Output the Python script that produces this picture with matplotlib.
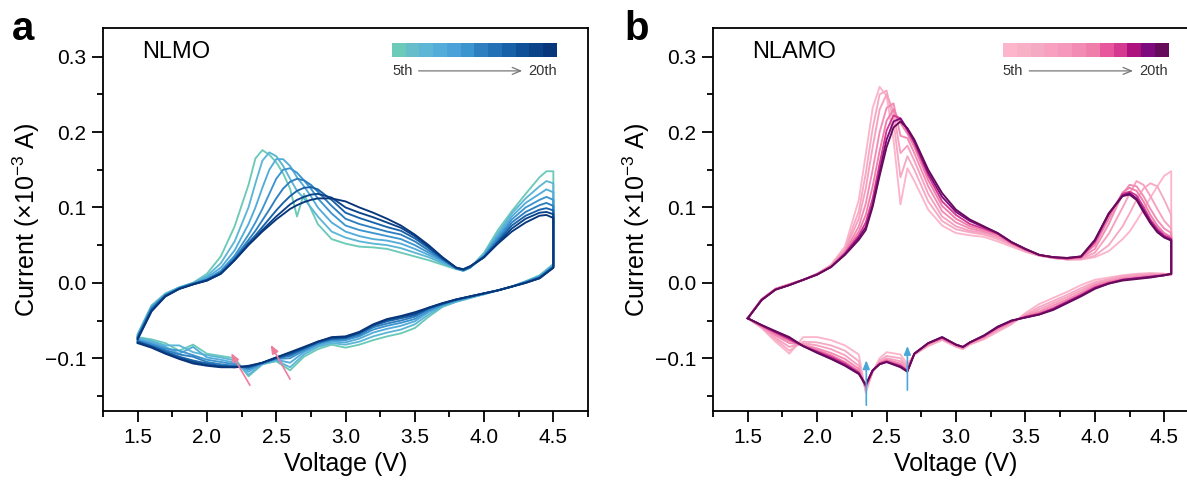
import numpy as np
import matplotlib.pyplot as plt
from matplotlib.colors import ListedColormap
from matplotlib.ticker import MultipleLocator

plt.rcParams['font.family'] = ['Liberation Sans', 'DejaVu Sans']
plt.rcParams['mathtext.fontset'] = 'custom'
plt.rcParams['mathtext.rm'] = 'Liberation Sans'
plt.rcParams['mathtext.it'] = 'Liberation Sans:italic'

# ---------- data ----------
cycles = ['5th', '7th', '9th', '11th', '13th', '15th', '17th', '20th']

# NLMO, charge (anodic) branch
v_up_a = [1.5, 1.6, 1.7, 1.8, 1.9, 2.0, 2.1, 2.2, 2.3, 2.35, 2.4, 2.45, 2.5, 2.55, 2.6, 2.65, 2.7, 2.75, 2.8,
          2.9, 3.0, 3.1, 3.2, 3.3, 3.4, 3.5, 3.6, 3.7, 3.8, 3.85, 3.9, 4.0, 4.1, 4.2, 4.3, 4.4, 4.45, 4.5]
i_up_a = [
    [-0.068, -0.030, -0.014, -0.006, 0.000, 0.012, 0.035, 0.075, 0.130, 0.165, 0.176, 0.170, 0.160, 0.145, 0.125, 0.088, 0.118, 0.098, 0.078,
     0.058, 0.052, 0.048, 0.047, 0.045, 0.040, 0.035, 0.030, 0.024, 0.018, 0.016, 0.020, 0.040, 0.070, 0.095, 0.118, 0.140, 0.148, 0.148],
    [-0.069, -0.031, -0.015, -0.006, 0.000, 0.009, 0.026, 0.055, 0.100, 0.132, 0.162, 0.173, 0.168, 0.155, 0.138, 0.122, 0.112, 0.100, 0.088,
     0.068, 0.060, 0.055, 0.052, 0.050, 0.046, 0.040, 0.034, 0.026, 0.019, 0.016, 0.020, 0.038, 0.066, 0.092, 0.112, 0.128, 0.135, 0.132],
    [-0.070, -0.032, -0.016, -0.007, -0.001, 0.007, 0.020, 0.043, 0.078, 0.100, 0.126, 0.150, 0.164, 0.164, 0.155, 0.140, 0.128, 0.115, 0.100,
     0.080, 0.068, 0.062, 0.058, 0.056, 0.052, 0.045, 0.037, 0.028, 0.019, 0.016, 0.020, 0.037, 0.063, 0.088, 0.106, 0.118, 0.124, 0.120],
    [-0.071, -0.033, -0.016, -0.007, -0.001, 0.005, 0.016, 0.036, 0.064, 0.080, 0.098, 0.118, 0.138, 0.150, 0.152, 0.146, 0.136, 0.125, 0.112,
     0.092, 0.076, 0.070, 0.066, 0.062, 0.058, 0.050, 0.040, 0.030, 0.019, 0.017, 0.021, 0.036, 0.060, 0.084, 0.100, 0.110, 0.114, 0.110],
    [-0.072, -0.034, -0.017, -0.007, -0.001, 0.004, 0.014, 0.033, 0.057, 0.069, 0.083, 0.097, 0.112, 0.125, 0.134, 0.138, 0.136, 0.130, 0.121,
     0.102, 0.085, 0.078, 0.073, 0.068, 0.064, 0.055, 0.043, 0.031, 0.019, 0.017, 0.021, 0.035, 0.057, 0.080, 0.094, 0.103, 0.106, 0.102],
    [-0.073, -0.036, -0.017, -0.008, -0.002, 0.004, 0.013, 0.031, 0.053, 0.063, 0.074, 0.085, 0.096, 0.106, 0.115, 0.122, 0.126, 0.127, 0.124,
     0.110, 0.093, 0.086, 0.080, 0.074, 0.069, 0.059, 0.046, 0.032, 0.020, 0.017, 0.021, 0.034, 0.055, 0.076, 0.089, 0.097, 0.099, 0.096],
    [-0.074, -0.037, -0.018, -0.008, -0.002, 0.003, 0.012, 0.030, 0.051, 0.060, 0.070, 0.079, 0.088, 0.096, 0.104, 0.110, 0.114, 0.117, 0.118,
     0.113, 0.100, 0.093, 0.087, 0.080, 0.073, 0.062, 0.048, 0.033, 0.020, 0.018, 0.022, 0.034, 0.053, 0.072, 0.085, 0.093, 0.094, 0.091],
    [-0.075, -0.038, -0.018, -0.008, -0.002, 0.003, 0.012, 0.030, 0.050, 0.059, 0.068, 0.076, 0.084, 0.091, 0.098, 0.103, 0.107, 0.110, 0.112,
     0.112, 0.108, 0.100, 0.093, 0.085, 0.076, 0.064, 0.050, 0.034, 0.020, 0.018, 0.022, 0.034, 0.052, 0.068, 0.080, 0.089, 0.090, 0.086],
]

# NLMO, discharge (cathodic) branch
v_down_a = [4.5, 4.4, 4.3, 4.2, 4.1, 4.0, 3.9, 3.8, 3.7, 3.6, 3.5, 3.4, 3.3, 3.2, 3.1, 3.0,
            2.9, 2.8, 2.7, 2.6, 2.5, 2.4, 2.3, 2.2, 2.1, 2.0, 1.9, 1.8, 1.7, 1.6, 1.5]
i_down_a = [
    [0.025, 0.010, 0.002, -0.005, -0.010, -0.015, -0.020, -0.025, -0.032, -0.045, -0.060, -0.067, -0.071, -0.076, -0.082, -0.086,
     -0.082, -0.088, -0.098, -0.116, -0.104, -0.108, -0.124, -0.100, -0.097, -0.094, -0.082, -0.090, -0.080, -0.075, -0.072],
    [0.024, 0.009, 0.002, -0.005, -0.010, -0.015, -0.020, -0.025, -0.031, -0.042, -0.055, -0.062, -0.066, -0.071, -0.078, -0.082,
     -0.080, -0.085, -0.095, -0.112, -0.103, -0.108, -0.122, -0.103, -0.099, -0.096, -0.092, -0.083, -0.083, -0.077, -0.073],
    [0.023, 0.008, 0.001, -0.005, -0.010, -0.015, -0.019, -0.024, -0.030, -0.039, -0.051, -0.057, -0.061, -0.066, -0.074, -0.079,
     -0.078, -0.083, -0.092, -0.106, -0.102, -0.107, -0.118, -0.106, -0.102, -0.099, -0.085, -0.094, -0.085, -0.079, -0.075],
    [0.022, 0.008, 0.001, -0.005, -0.010, -0.014, -0.019, -0.023, -0.029, -0.037, -0.048, -0.053, -0.057, -0.062, -0.071, -0.076,
     -0.076, -0.081, -0.090, -0.100, -0.101, -0.107, -0.115, -0.108, -0.105, -0.102, -0.096, -0.090, -0.087, -0.081, -0.076],
    [0.021, 0.007, 0.001, -0.005, -0.010, -0.014, -0.018, -0.023, -0.028, -0.035, -0.045, -0.050, -0.054, -0.059, -0.069, -0.074,
     -0.075, -0.080, -0.088, -0.097, -0.100, -0.106, -0.113, -0.110, -0.108, -0.105, -0.098, -0.095, -0.089, -0.083, -0.077],
    [0.021, 0.007, 0.000, -0.005, -0.010, -0.014, -0.018, -0.022, -0.028, -0.034, -0.043, -0.047, -0.051, -0.057, -0.067, -0.073,
     -0.074, -0.079, -0.087, -0.095, -0.100, -0.106, -0.112, -0.111, -0.110, -0.107, -0.103, -0.098, -0.091, -0.084, -0.078],
    [0.020, 0.006, 0.000, -0.005, -0.010, -0.014, -0.018, -0.022, -0.027, -0.033, -0.041, -0.045, -0.049, -0.056, -0.066, -0.072,
     -0.073, -0.078, -0.086, -0.093, -0.099, -0.106, -0.111, -0.112, -0.111, -0.109, -0.105, -0.100, -0.093, -0.085, -0.079],
    [0.020, 0.006, 0.000, -0.005, -0.010, -0.014, -0.018, -0.022, -0.027, -0.033, -0.039, -0.044, -0.048, -0.055, -0.065, -0.071,
     -0.072, -0.078, -0.085, -0.092, -0.099, -0.106, -0.110, -0.112, -0.112, -0.110, -0.107, -0.101, -0.094, -0.086, -0.080],
]

# NLAMO, charge branch
v_up_b = [1.5, 1.6, 1.7, 1.8, 1.9, 2.0, 2.1, 2.2, 2.3, 2.35, 2.4, 2.45, 2.5, 2.55, 2.6, 2.65, 2.7, 2.8, 2.9, 3.0,
          3.1, 3.2, 3.3, 3.4, 3.5, 3.6, 3.7, 3.8, 3.9, 4.0, 4.1, 4.2, 4.25, 4.3, 4.35, 4.4, 4.45, 4.5, 4.55]
i_up_b = [
    [-0.047, -0.022, -0.008, -0.002, 0.004, 0.012, 0.024, 0.048, 0.110, 0.170, 0.232, 0.260, 0.248, 0.190, 0.104, 0.152, 0.135, 0.097, 0.076, 0.066,
     0.063, 0.061, 0.055, 0.048, 0.041, 0.036, 0.033, 0.031, 0.031, 0.034, 0.042, 0.058, 0.068, 0.082, 0.097, 0.113, 0.128, 0.142, 0.148],
    [-0.047, -0.022, -0.008, -0.002, 0.004, 0.012, 0.023, 0.045, 0.095, 0.145, 0.205, 0.250, 0.255, 0.215, 0.140, 0.168, 0.150, 0.108, 0.082, 0.071,
     0.067, 0.064, 0.058, 0.050, 0.042, 0.036, 0.033, 0.031, 0.031, 0.036, 0.050, 0.075, 0.092, 0.110, 0.125, 0.132, 0.128, 0.110, 0.090],
    [-0.047, -0.022, -0.008, -0.002, 0.004, 0.012, 0.023, 0.043, 0.085, 0.125, 0.180, 0.230, 0.250, 0.228, 0.172, 0.182, 0.162, 0.118, 0.088, 0.075,
     0.069, 0.066, 0.060, 0.051, 0.043, 0.036, 0.033, 0.031, 0.032, 0.040, 0.065, 0.100, 0.118, 0.135, 0.130, 0.115, 0.098, 0.082, 0.072],
    [-0.047, -0.022, -0.008, -0.002, 0.004, 0.012, 0.022, 0.041, 0.075, 0.105, 0.150, 0.200, 0.232, 0.238, 0.195, 0.192, 0.172, 0.128, 0.095, 0.080,
     0.072, 0.068, 0.062, 0.052, 0.044, 0.037, 0.033, 0.032, 0.033, 0.045, 0.078, 0.118, 0.130, 0.128, 0.115, 0.098, 0.083, 0.072, 0.066],
    [-0.047, -0.022, -0.008, -0.002, 0.004, 0.011, 0.022, 0.040, 0.068, 0.090, 0.128, 0.175, 0.215, 0.230, 0.212, 0.198, 0.180, 0.136, 0.102, 0.085,
     0.075, 0.070, 0.064, 0.053, 0.044, 0.037, 0.034, 0.032, 0.034, 0.050, 0.085, 0.120, 0.126, 0.122, 0.108, 0.090, 0.076, 0.066, 0.061],
    [-0.047, -0.022, -0.009, -0.003, 0.004, 0.011, 0.021, 0.039, 0.063, 0.080, 0.112, 0.158, 0.202, 0.222, 0.218, 0.202, 0.185, 0.142, 0.108, 0.090,
     0.078, 0.072, 0.065, 0.053, 0.044, 0.037, 0.034, 0.032, 0.034, 0.054, 0.090, 0.118, 0.121, 0.116, 0.101, 0.084, 0.072, 0.063, 0.059],
    [-0.047, -0.023, -0.009, -0.003, 0.004, 0.011, 0.021, 0.038, 0.060, 0.074, 0.104, 0.148, 0.190, 0.214, 0.218, 0.204, 0.188, 0.146, 0.114, 0.094,
     0.082, 0.074, 0.066, 0.054, 0.045, 0.037, 0.034, 0.033, 0.035, 0.056, 0.092, 0.116, 0.119, 0.112, 0.097, 0.081, 0.069, 0.061, 0.057],
    [-0.047, -0.023, -0.009, -0.003, 0.004, 0.011, 0.021, 0.037, 0.057, 0.070, 0.101, 0.142, 0.180, 0.206, 0.214, 0.205, 0.190, 0.150, 0.119, 0.097,
     0.084, 0.075, 0.066, 0.054, 0.045, 0.037, 0.034, 0.033, 0.035, 0.057, 0.092, 0.115, 0.117, 0.110, 0.094, 0.079, 0.067, 0.060, 0.056],
]

# NLAMO, discharge branch
v_down_b = [4.55, 4.5, 4.4, 4.3, 4.2, 4.1, 4.0, 3.9, 3.8, 3.7, 3.6, 3.5, 3.4, 3.3, 3.2, 3.1, 3.05, 3.0,
            2.9, 2.8, 2.7, 2.65, 2.6, 2.5, 2.45, 2.4, 2.35, 2.3, 2.2, 2.1, 2.0, 1.9, 1.8, 1.7, 1.6, 1.5]
i_down_b = [
    [0.010, 0.012, 0.013, 0.012, 0.010, 0.007, 0.004, -0.003, -0.012, -0.020, -0.028, -0.040, -0.055, -0.065, -0.075, -0.082, -0.088, -0.085,
     -0.076, -0.084, -0.095, -0.108, -0.095, -0.092, -0.100, -0.118, -0.146, -0.095, -0.083, -0.076, -0.072, -0.072, -0.094, -0.078, -0.060, -0.047],
    [0.011, 0.012, 0.012, 0.011, 0.009, 0.005, 0.001, -0.007, -0.016, -0.024, -0.032, -0.042, -0.054, -0.063, -0.074, -0.081, -0.087, -0.084,
     -0.075, -0.083, -0.095, -0.111, -0.100, -0.097, -0.103, -0.118, -0.143, -0.104, -0.090, -0.083, -0.079, -0.078, -0.090, -0.075, -0.059, -0.047],
    [0.011, 0.011, 0.011, 0.010, 0.008, 0.004, -0.001, -0.010, -0.019, -0.027, -0.035, -0.043, -0.053, -0.062, -0.073, -0.081, -0.087, -0.084,
     -0.074, -0.082, -0.095, -0.113, -0.104, -0.100, -0.105, -0.118, -0.141, -0.110, -0.096, -0.088, -0.083, -0.080, -0.085, -0.073, -0.058, -0.047],
    [0.011, 0.011, 0.010, 0.008, 0.006, 0.002, -0.003, -0.013, -0.022, -0.030, -0.038, -0.044, -0.052, -0.061, -0.072, -0.080, -0.086, -0.083,
     -0.074, -0.081, -0.094, -0.115, -0.107, -0.102, -0.106, -0.117, -0.139, -0.114, -0.101, -0.093, -0.087, -0.082, -0.080, -0.070, -0.058, -0.047],
    [0.012, 0.011, 0.009, 0.007, 0.005, 0.001, -0.005, -0.015, -0.024, -0.033, -0.040, -0.045, -0.051, -0.060, -0.071, -0.080, -0.086, -0.083,
     -0.073, -0.081, -0.094, -0.116, -0.109, -0.103, -0.107, -0.117, -0.138, -0.117, -0.105, -0.096, -0.089, -0.083, -0.077, -0.068, -0.057, -0.047],
    [0.012, 0.010, 0.008, 0.006, 0.004, 0.000, -0.006, -0.016, -0.025, -0.034, -0.041, -0.045, -0.051, -0.059, -0.071, -0.079, -0.085, -0.082,
     -0.073, -0.080, -0.094, -0.117, -0.110, -0.104, -0.107, -0.116, -0.137, -0.119, -0.107, -0.098, -0.091, -0.084, -0.075, -0.066, -0.057, -0.047],
    [0.012, 0.010, 0.008, 0.006, 0.004, -0.001, -0.007, -0.017, -0.026, -0.035, -0.042, -0.046, -0.050, -0.059, -0.070, -0.079, -0.085, -0.082,
     -0.072, -0.080, -0.094, -0.117, -0.111, -0.105, -0.108, -0.116, -0.136, -0.120, -0.109, -0.100, -0.092, -0.084, -0.073, -0.065, -0.056, -0.047],
    [0.012, 0.010, 0.007, 0.005, 0.003, -0.001, -0.008, -0.018, -0.027, -0.036, -0.042, -0.046, -0.050, -0.058, -0.070, -0.079, -0.085, -0.082,
     -0.072, -0.080, -0.094, -0.118, -0.112, -0.105, -0.108, -0.116, -0.135, -0.121, -0.110, -0.101, -0.093, -0.084, -0.072, -0.064, -0.056, -0.047],
]

# colour blocks of the little cycle bars (5th -> 20th)
blues = ['#6ccab8', '#68bdcb', '#5db6d6', '#53acda', '#4aa2d8', '#3d95d0',
         '#2e7fc0', '#2270b5', '#1761a8', '#0f5198', '#0b4389', '#08367a']
pinks = ['#fcb5ca', '#f8b0c7', '#f5aac4', '#f7a0c0', '#f598bc', '#f38cb4',
         '#ef7eab', '#e8579b', '#d43a8f', '#ae127c', '#7e0b7e', '#660a5a']
pick = [0, 2, 3, 5, 6, 8, 10, 11]   # which block each drawn cycle uses

# annotation arrows (tail x, tail y, head x, head y)
arrows_a = [(2.32, -0.139, 2.165, -0.090), (2.61, -0.131, 2.45, -0.079)]
arrows_b = [(2.354, -0.166, 2.354, -0.099), (2.65, -0.146, 2.65, -0.080)]

# ---------- plot ----------
fig = plt.figure(figsize=(11.87, 4.88), dpi=100)
ax_a = fig.add_axes([103 / 1187, 1 - 411 / 488, 485 / 1187, 383 / 488])
ax_b = fig.add_axes([713 / 1187, 1 - 411 / 488, 486 / 1187, 383 / 488])


def draw_panel(ax, v_up, i_up, v_down, i_down, blocks, name, arrows, arrow_col):
    for k in range(len(cycles)):
        x = list(v_up) + list(v_down)
        y = list(i_up[k]) + list(i_down[k])
        ax.plot(x, y, color=blocks[pick[k]], lw=1.35, solid_joinstyle='round')

    for x0, y0, x1, y1 in arrows:
        ax.annotate('', xy=(x1, y1), xytext=(x0, y0),
                    arrowprops=dict(arrowstyle='-|>,head_length=0.5,head_width=0.2',
                                    color=arrow_col, lw=1.2))

    ax.set_xlim(1.25, 4.75)
    ax.set_ylim(-0.17, 0.338)
    ax.xaxis.set_major_locator(MultipleLocator(0.5))
    ax.xaxis.set_minor_locator(MultipleLocator(0.25))
    ax.yaxis.set_minor_locator(MultipleLocator(0.05))
    ax.set_yticks([-0.1, 0.0, 0.1, 0.2, 0.3])
    ax.set_yticklabels(['\u22120.1', '0.0', '0.1', '0.2', '0.3'])
    ax.tick_params(which='major', direction='out', length=8, width=1.3, labelsize=15, pad=4)
    ax.tick_params(which='minor', direction='out', length=4.5, width=1.3)
    ax.tick_params(top=False, right=False)
    for s in ax.spines.values():
        s.set_linewidth(1.3)
    ax.set_xlabel('Voltage (V)', fontsize=18, labelpad=4)
    ax.set_ylabel('Current (\u00d710$^{-3}$ A)', fontsize=18, labelpad=2)

    ax.text(0.08, 0.937, name, transform=ax.transAxes, fontsize=17, va='center', ha='left')

    bar = ax.inset_axes([0.596, 0.924, 0.34, 0.037])
    bar.imshow(np.arange(len(blocks))[None, :], cmap=ListedColormap(blocks), aspect='auto')
    bar.set_axis_off()
    ax.text(0.596, 0.888, '5th', transform=ax.transAxes, fontsize=10.5, va='center', ha='left', color='#333333')
    ax.text(0.936, 0.888, '20th', transform=ax.transAxes, fontsize=10.5, va='center', ha='right', color='#333333')
    ax.annotate('', xy=(0.87, 0.888), xytext=(0.645, 0.888), xycoords='axes fraction',
                arrowprops=dict(arrowstyle='->,head_length=0.6,head_width=0.25', color='#777777', lw=0.9))


draw_panel(ax_a, v_up_a, i_up_a, v_down_a, i_down_a, blues, 'NLMO', arrows_a, '#f07c9c')
draw_panel(ax_b, v_up_b, i_up_b, v_down_b, i_down_b, pinks, 'NLAMO', arrows_b, '#4aa8d8')

fig.text(12 / 1187, 1 - 40 / 488, 'a', fontsize=29, fontweight='bold', ha='left', va='baseline')
fig.text(624 / 1187, 1 - 40 / 488, 'b', fontsize=29, fontweight='bold', ha='left', va='baseline')

fig.savefig('out.png', dpi=100)
